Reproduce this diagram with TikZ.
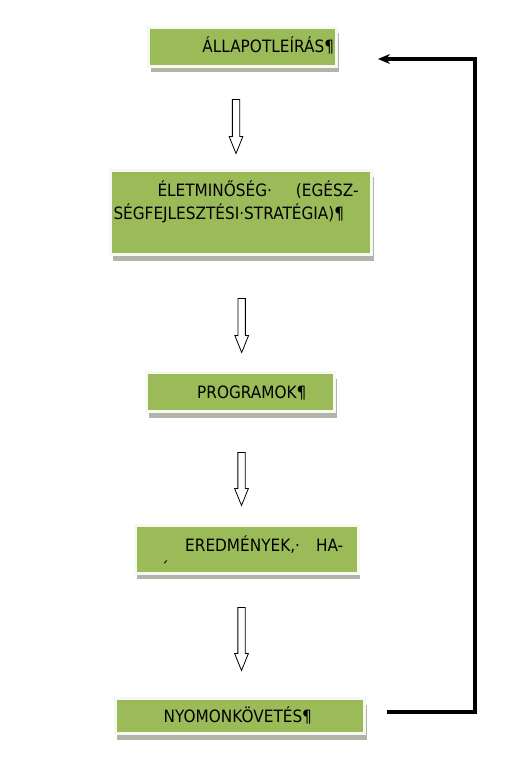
\documentclass[tikz,border=0pt]{standalone}
\usepackage{fontspec}
\newfontfamily\boxfont{DejaVu Sans}[FakeStretch=0.9]
\usetikzlibrary{shapes.arrows, arrows.meta, shadows}
\definecolor{boxgreen}{RGB}{155,187,89}
\definecolor{boxframe}{RGB}{246,248,242}
\definecolor{boxshadow}{RGB}{178,180,168}
\tikzset{
	box/.style={rectangle, fill=boxgreen, draw=boxframe, line width=3pt, inner ysep=0pt, inner xsep=2.5pt, align=left, text height=12pt, text depth=0pt, font=\boxfont\fontsize{17}{23}\selectfont, drop shadow={shadow xshift=2pt, shadow yshift=-6pt, fill=boxshadow, opacity=1}},
	hollow/.style={single arrow, draw=black, fill=white, line width=0.8pt, rotate=-90, inner xsep=0pt, inner ysep=3.25pt, text height=0pt, text depth=0pt, single arrow head extend=3.25pt, single arrow tip angle=44},
	feedback/.style={line width=3.5pt, -{Stealth[length=12pt, width=10pt]}}
}

\begin{document}
\begin{tikzpicture}[x=1pt, y=-1pt]
		\useasboundingbox (0, 0) rectangle (512, 773);
		\node[box, minimum width=188pt, minimum height=39pt, text width=183pt, align=right] (state) at (242.5, 47) {ÁLLAPOTLEÍRÁS¶};
		\node[box, minimum width=261pt, minimum height=84pt, text width=255pt, inner xsep=3pt, text height=16pt, text depth=48pt] (quality) at (241, 212.5) {\makebox[245pt][l]{\hspace*{44pt}ÉLETMINŐSÉG·\hfill(EGÉSZ-}\\SÉGFEJLESZTÉSI·STRATÉGIA)¶};
		\node[box, minimum width=188pt, minimum height=39pt, text width=183pt] (programs) at (240.7, 392) {\hspace*{48pt}PROGRAMOK¶};
		\node[box, minimum width=223pt, minimum height=48pt, text width=215pt, inner xsep=4pt, text height=14pt, text depth=10pt] (results) at (246.7, 549) {\makebox[204pt][l]{\hspace*{46pt}EREDMÉNYEK,·\hfill HA-}\\\hspace*{22pt}´};
		\node[box, minimum width=249.6pt, minimum height=35pt, text width=244.6pt] (monitor) at (240, 716) {\hspace*{46pt}NYOMONKÖVETÉS¶};
		\node[hollow, minimum height=54pt] (arr1) at (236, 122) {};
		\node[hollow, minimum height=54pt] (arr2) at (241.7, 321) {};
		\node[hollow, minimum height=53pt] (arr3) at (241.5, 474.5) {};
		\node[hollow, minimum height=63pt] (arr4) at (241.5, 634.5) {};
		\coordinate (corner) at (475, 59);
		\draw[feedback, shorten <=21pt, shorten >=40pt] ([yshift=4pt]monitor.east) -| (corner) -- ([yshift=-12pt]state.east);
	\end{tikzpicture}
\end{document}
